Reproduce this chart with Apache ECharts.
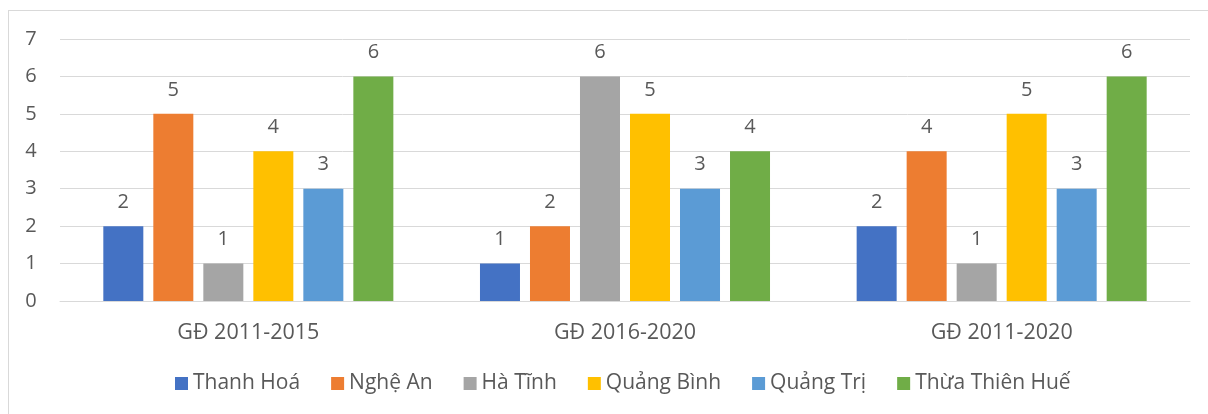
<!DOCTYPE html>
<html><head>
<meta charset="UTF-8">
<title>Biểu đồ</title>
<style>
  body { margin: 0; background: #fff; }
  #wrap { position: relative; width: 1208px; height: 414px; overflow: hidden; }
  #frame {
    position: absolute; left: 8px; top: 10px; width: 1300px; height: 500px;
    border: 1px solid #d9d9d9; box-sizing: border-box;
  }
  #chart { position: absolute; left: 0; top: 0; width: 1208px; height: 414px; }
</style>
</head>
<body>
<div id="wrap">
  <div id="frame"></div>
  <div id="chart"></div>
</div>
<script src="https://cdn.jsdelivr.net/npm/echarts@6/dist/echarts.min.js"></script>
<script>
  const categories = ['GĐ 2011-2015', 'GĐ 2016-2020', 'GĐ 2011-2020'];
  const thanhHoa = [2, 1, 2];
  const ngheAn = [5, 2, 4];
  const haTinh = [1, 6, 1];
  const quangBinh = [4, 5, 5];
  const quangTri = [3, 3, 3];
  const thuaThienHue = [6, 4, 6];

  const seriesNames = ['Thanh Hoá', 'Nghệ An', 'Hà Tĩnh', 'Quảng Bình', 'Quảng Trị', 'Thừa Thiên Huế'];
  const seriesData = [thanhHoa, ngheAn, haTinh, quangBinh, quangTri, thuaThienHue];
  const colors = ['#4472c4', '#ed7d31', '#a5a5a5', '#ffc000', '#5b9bd5', '#70ad47'];

  const font = "'Open Sans', 'Noto Sans', sans-serif";
  const textColor = '#595959';

  const chart = echarts.init(document.getElementById('chart'));
  chart.setOption({
    animation: false,
    color: colors,
    textStyle: { fontFamily: font },
    grid: { left: 60, right: 18, top: 39, bottom: 113 },
    legend: {
      bottom: 15,
      left: 170,
      itemWidth: 13,
      itemHeight: 13,
      itemGap: 31,
      icon: 'rect',
      textStyle: { fontSize: 21, color: textColor, fontFamily: font }
    },
    xAxis: {
      type: 'category',
      data: categories,
      axisLine: { show: true, lineStyle: { color: '#d9d9d9' } },
      axisTick: { show: false },
      axisLabel: { fontSize: 21.5, color: textColor, margin: 21 }
    },
    yAxis: {
      type: 'value',
      min: 0,
      max: 7,
      interval: 1,
      axisLine: { show: false },
      axisTick: { show: false },
      splitLine: { lineStyle: { color: '#d9d9d9', width: 1 } },
      axisLabel: { fontSize: 20, color: textColor, margin: 29, align: 'center' }
    },
    series: seriesNames.map((name, i) => ({
      name: name,
      type: 'bar',
      data: seriesData[i],
      barGap: '25%',
      barCategoryGap: '23%',
      label: {
        show: true,
        position: 'top',
        distance: 14,
        fontSize: 20,
        color: textColor,
        fontFamily: font
      }
    }))
  });
</script>
</body></html>
